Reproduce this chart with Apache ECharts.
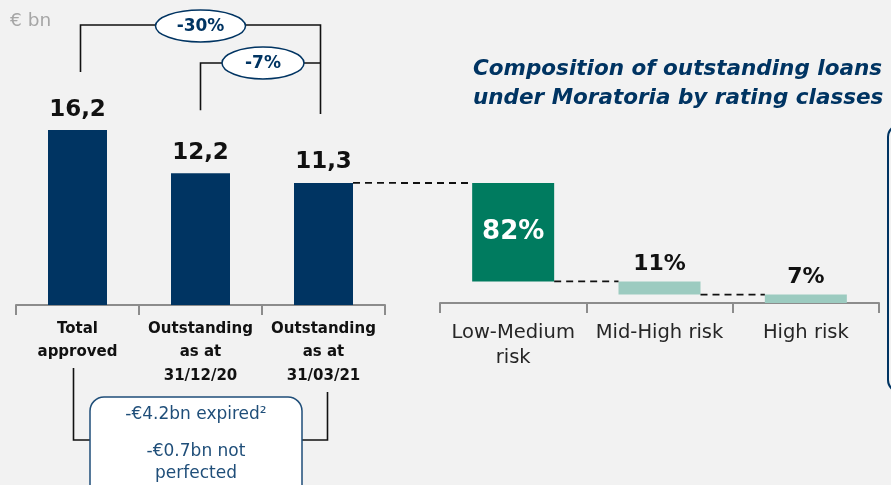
<!DOCTYPE html>
<html><head><meta charset="utf-8">
<script src="https://cdn.jsdelivr.net/npm/echarts@6/dist/echarts.min.js"></script>
<style>html,body{margin:0;padding:0;background:#f2f2f2;}#c{width:891px;height:485px;}</style>
</head><body><div id="c"></div>
<script>
const categories = ['Total\napproved', 'Outstanding\nas at\n31/12/20', 'Outstanding\nas at\n31/03/21'];
const values = [16.2, 12.2, 11.3];
const riskClasses = ['Low-Medium\nrisk', 'Mid-High risk', 'High risk'];
const riskShares = [82, 11, 7];
const changeLabels = ['-30%', '-7%'];
const noteLines = ['-€4.2bn expired²', '-€0.7bn not', 'perfected'];
const unitLabel = '€ bn';
const titleText = 'Composition of outstanding loans\nunder Moratoria by rating classes';

const NAVY = '#003462', GREEN = '#007b5f', TEAL = '#9ccbc0', FONT = '"DejaVu Sans", sans-serif';

// waterfall bases
const bases = [];
let rem = 100;
riskShares.forEach(v => { rem -= v; bases.push(rem); });

const chart = echarts.init(document.getElementById('c'), null, {renderer: 'canvas'});
const axisStyle = {show: true, lineStyle: {color: '#8c8c8c', width: 2}};
chart.setOption({
  backgroundColor: '#f2f2f2',
  animation: false,
  title: {text: titleText, left: 468, top: 50,
    textStyle: {color: NAVY, fontFamily: FONT, fontSize: 21.5, fontWeight: 'bold', fontStyle: 'italic', lineHeight: 29}},
  grid: [
    {left: 16, width: 369, top: 89, height: 216},
    {left: 440, width: 439, top: 183, height: 120}
  ],
  xAxis: [
    {type: 'category', gridIndex: 0, data: categories, axisLine: axisStyle,
     axisTick: {show: true, length: 10, lineStyle: {color: '#8c8c8c', width: 2}},
     axisLabel: {interval: 0, margin: 12, color: '#111', fontFamily: FONT, fontSize: 15, fontWeight: 'bold', lineHeight: 23.5}},
    {type: 'category', gridIndex: 1, data: riskClasses, axisLine: axisStyle,
     axisTick: {show: true, length: 10, lineStyle: {color: '#8c8c8c', width: 2}},
     axisLabel: {interval: 0, margin: 17, color: '#262626', fontFamily: FONT, fontSize: 19.5, lineHeight: 25}}
  ],
  yAxis: [
    {type: 'value', gridIndex: 0, min: 0, max: 20, show: false, splitLine: {show: false}},
    {type: 'value', gridIndex: 1, min: 0, max: 100, show: false, splitLine: {show: false}}
  ],
  series: [
    {type: 'bar', xAxisIndex: 0, yAxisIndex: 0, data: values, barWidth: 59,
     itemStyle: {color: NAVY},
     label: {show: true, position: 'top', distance: 9, color: '#111', fontFamily: FONT, fontSize: 23, fontWeight: 'bold',
       formatter: p => String(p.value).replace('.', ',')}},
    {type: 'bar', xAxisIndex: 1, yAxisIndex: 1, stack: 'w', data: bases, barWidth: 82,
     itemStyle: {color: 'transparent'}, silent: true},
    {type: 'bar', xAxisIndex: 1, yAxisIndex: 1, stack: 'w', barWidth: 82,
     data: riskShares.map((v, i) => ({value: v, itemStyle: {color: i === 0 ? GREEN : TEAL},
       label: i === 0 ? {position: 'inside', color: '#fff', fontSize: 26} : {position: 'top', color: '#111', fontSize: 22, distance: 6}})),
     label: {show: true, fontFamily: FONT, fontWeight: 'bold', formatter: p => p.value + '%'}}
  ]
});

// annotations computed from the chart's own scales
const px = (g, x, y) => chart.convertToPixel({gridIndex: g}, [x, y]);
const cx = values.map((v, i) => px(0, i, 0)[0]);
const topL = values.map((v, i) => px(0, i, v)[1]);
const wx = riskShares.map((v, i) => px(1, i, 0)[0]);
const wTop = riskShares.map((v, i) => px(1, i, bases[i] + v)[1]);
const wBot = riskShares.map((v, i) => px(1, i, bases[i])[1]);
const lineS = {stroke: '#111', lineWidth: 1.6};
const dashS = {stroke: '#111', lineWidth: 1.8, lineDash: [7, 5]};
const g = [];
const poly = (pts, style) => g.push({type: 'polyline', shape: {points: pts}, style: style || lineS, z: 5});
// top brackets
poly([[cx[0] + 3, topL[0] - 58], [cx[0] + 3, 25], [cx[2] - 3, 25], [cx[2] - 3, topL[2] - 69]]);
poly([[cx[1], topL[1] - 63], [cx[1], 63], [cx[2] - 3, 63]]);
g.push({type: 'ellipse', shape: {cx: (cx[0] + cx[2]) / 2, cy: 26, rx: 45, ry: 16}, style: {fill: '#fff', stroke: NAVY, lineWidth: 1.5}, z: 6});
g.push({type: 'text', x: (cx[0] + cx[2]) / 2, y: 27, style: {text: changeLabels[0], fill: NAVY, font: 'bold 17px ' + FONT, align: 'center', verticalAlign: 'middle'}, z: 7});
g.push({type: 'ellipse', shape: {cx: (cx[1] + cx[2]) / 2 + 1, cy: 63, rx: 41, ry: 16}, style: {fill: '#fff', stroke: NAVY, lineWidth: 1.5}, z: 6});
g.push({type: 'text', x: (cx[1] + cx[2]) / 2 + 1, y: 64, style: {text: changeLabels[1], fill: NAVY, font: 'bold 17px ' + FONT, align: 'center', verticalAlign: 'middle'}, z: 7});
// bottom bracket
poly([[cx[0] - 4, 368], [cx[0] - 4, 440], [cx[2] + 4, 440], [cx[2] + 4, 392]]);
g.push({type: 'rect', shape: {x: 90, y: 397, width: 212, height: 110, r: 14}, style: {fill: '#fff', stroke: '#1f4e79', lineWidth: 1.5}, z: 6});
g.push({type: 'text', x: 196, y: 415, style: {text: noteLines[0], fill: '#1f4e79', font: '17px ' + FONT, align: 'center', verticalAlign: 'middle'}, z: 7});
g.push({type: 'text', x: 196, y: 463, style: {text: noteLines[1] + '\n' + noteLines[2], fill: '#1f4e79', font: '17px ' + FONT, align: 'center', verticalAlign: 'middle', lineHeight: 22}, z: 7});
// connectors
const bwL = 59 / 2, bwR = 82 / 2;
poly([[cx[2] + bwL, topL[2]], [wx[0] - bwR, wTop[0]]], dashS);
for (let i = 0; i < riskShares.length - 1; i++) {
  poly([[wx[i] + bwR, wBot[i]], [wx[i + 1] - bwR, wBot[i]]], dashS);
}
// unit label
g.push({type: 'text', x: 10, y: 21, style: {text: unitLabel, fill: '#a6a6a6', font: '18.5px ' + FONT, verticalAlign: 'middle'}, z: 7});
// right-side framed box edge
g.push({type: 'rect', shape: {x: 888, y: 125, width: 40, height: 267, r: 12}, style: {fill: 'none', stroke: NAVY, lineWidth: 2}, z: 6});
chart.setOption({graphic: g});
</script></body></html>
